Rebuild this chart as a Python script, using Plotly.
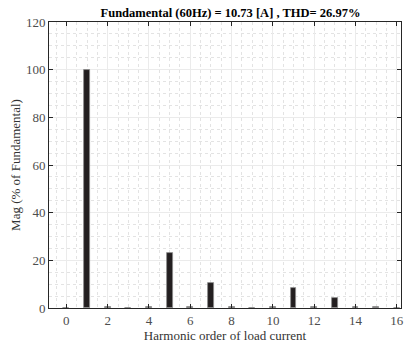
import plotly.graph_objects as go

harmonics = [0, 1, 2, 3, 4, 5, 6, 7, 8, 9, 10, 11, 12, 13, 14, 15, 16]
mag = [0.2, 100, 0.3, 0.2, 0.4, 22.9, 0.5, 10.7, 0.3, 0.2, 0.3, 8.6, 0.4, 4.2, 0.5, 0.3, 0.2]
title_text = "Fundamental (60Hz) = 10.73 [A] , THD= 26.97%"
x_label = "Harmonic order of load current"
y_label = "Mag (% of Fundamental)"
x_ticks = [0, 2, 4, 6, 8, 10, 12, 14, 16]
y_ticks = [0, 20, 40, 60, 80, 100, 120]

font_family = "Liberation Serif"
axis_color = "#262626"

fig = go.Figure()
fig.add_trace(go.Bar(
    x=harmonics, y=mag, width=0.28,
    marker=dict(color="#231f20", line=dict(color="#8c8c8c", width=0.8)),
))

common = dict(
    showline=True, linecolor=axis_color, linewidth=1, mirror="ticks",
    ticks="inside", ticklen=4, tickcolor=axis_color,
    showgrid=True, gridcolor="#ebebeb", gridwidth=1, zeroline=False,
    tickfont=dict(family=font_family, size=13, color="#4d4d4d"),
    title_font=dict(family=font_family, size=13, color="#333333"),
)

fig.update_layout(
    width=408, height=347,
    margin=dict(l=49, r=4, t=22, b=39),
    paper_bgcolor="white", plot_bgcolor="white",
    showlegend=False, bargap=0,
    title=dict(text="<b>" + title_text + "</b>", x=0.565, xanchor="center",
               y=1 - 12.5 / 347, yanchor="middle",
               font=dict(family=font_family, size=12.5, color="black")),
    xaxis=dict(range=[-0.84, 16.2], tickvals=x_ticks, title=dict(text=x_label, standoff=4),
               minor=dict(dtick=0.5, tick0=0, showgrid=True, gridcolor="#e3e3e3",
                          griddash="dot", gridwidth=1, ticks=""),
               **common),
    yaxis=dict(range=[0, 120], tickvals=y_ticks, title=dict(text=y_label, standoff=2),
               minor=dict(dtick=5, tick0=0, showgrid=True, gridcolor="#e3e3e3",
                          griddash="dot", gridwidth=1, ticks=""),
               **common),
)

fig.write_html("out.html")
